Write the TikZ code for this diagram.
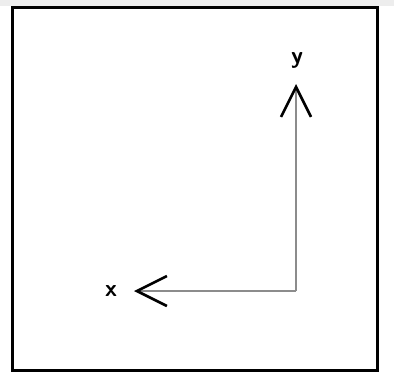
\documentclass[tikz,border=0pt]{standalone}
\usepackage{tikz}
\usetikzlibrary{arrows.meta}
\begin{document}
\begin{tikzpicture}[x=1pt,y=1pt,axis/.style={line width=2pt,black!45,-{Straight Barb[length=30pt,width=30pt,line width=2.6pt,black]}},lbl/.style={font=\sffamily\bfseries\fontsize{24}{24}\selectfont,inner sep=0pt}]
\useasboundingbox(0,0)rectangle(394,376);
\fill[black!7](0,370)rectangle(394,376);
\draw[line width=3pt](12,368)rectangle(377,6);
\coordinate(o)at(296,85);
\coordinate(xe)at(134,85);
\coordinate(ye)at(296,292);
\draw[axis](o)--(xe);
\draw[axis](o)--(ye);
\node[lbl](xl)at(111,85){x};
\node[lbl](yl)at(297,316){y};
\end{tikzpicture}
\end{document}
